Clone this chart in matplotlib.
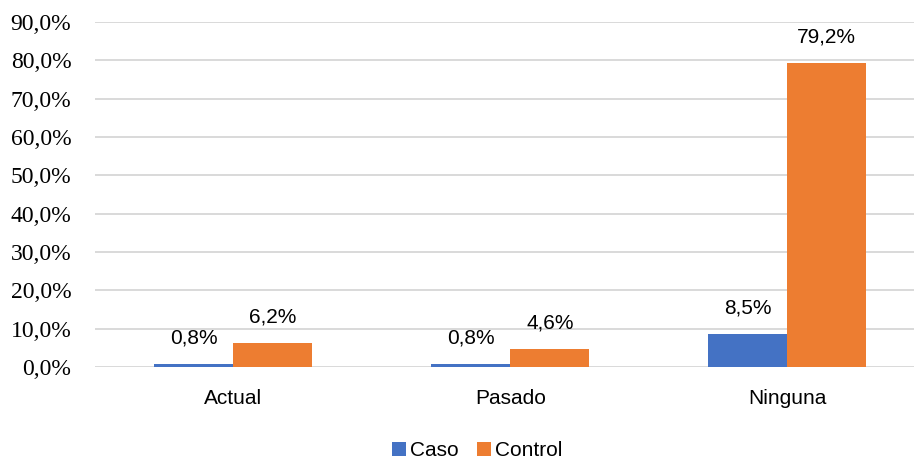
import matplotlib
matplotlib.use("Agg")
import matplotlib.pyplot as plt
import numpy as np

categories = ["Actual", "Pasado", "Ninguna"]
caso = [0.8, 0.8, 8.5]
control = [6.2, 4.6, 79.2]
series_names = ["Caso", "Control"]
y_ticks = [0, 10, 20, 30, 40, 50, 60, 70, 80, 90]

blue = "#4472C4"
orange = "#ED7D31"
grid_color = "#D9D9D9"
sans = "Liberation Sans"
serif = "Liberation Serif"

fig = plt.figure(figsize=(9.14, 4.67), dpi=100)
ax = fig.add_axes([0.1039, 0.2141, 0.8961, 0.7388])

x = np.arange(len(categories))
w = 0.285
b1 = ax.bar(x - w / 2, caso, width=w, color=blue, label=series_names[0], zorder=3)
b2 = ax.bar(x + w / 2, control, width=w, color=orange, label=series_names[1], zorder=3)

for bars, vals in ((b1, caso), (b2, control)):
    for rect, v in zip(bars, vals):
        ax.annotate(f"{v:.1f}%".replace(".", ","),
                    (rect.get_x() + rect.get_width() / 2, v),
                    xytext=(0, 12), textcoords="offset points",
                    ha="center", va="bottom", fontsize=15, family=sans,
                    color="#000000")

ax.set_ylim(0, 90)
ax.set_xlim(-0.5, 2.458)
ax.set_yticks(y_ticks)
ax.set_yticklabels([f"{t:.1f}%".replace(".", ",") for t in y_ticks],
                   family=serif, fontsize=17)
ax.set_xticks(x)
ax.set_xticklabels(categories, family=sans, fontsize=15)
ax.tick_params(axis="both", length=0)
ax.tick_params(axis="y", pad=17)
ax.tick_params(axis="x", pad=16)
ax.yaxis.grid(True, color=grid_color, linewidth=1.4, zorder=0)
ax.set_axisbelow(True)
for s in ax.spines.values():
    s.set_visible(False)

fig.legend(handles=[b1, b2], labels=series_names, loc="center",
           bbox_to_anchor=(0.522, 1 - 451 / 467), ncol=2, frameon=False,
           prop={"family": sans, "size": 15},
           handlelength=0.65, handleheight=0.65, handletextpad=0.2,
           columnspacing=0.9)

fig.savefig("out.png", dpi=100, facecolor="white")
